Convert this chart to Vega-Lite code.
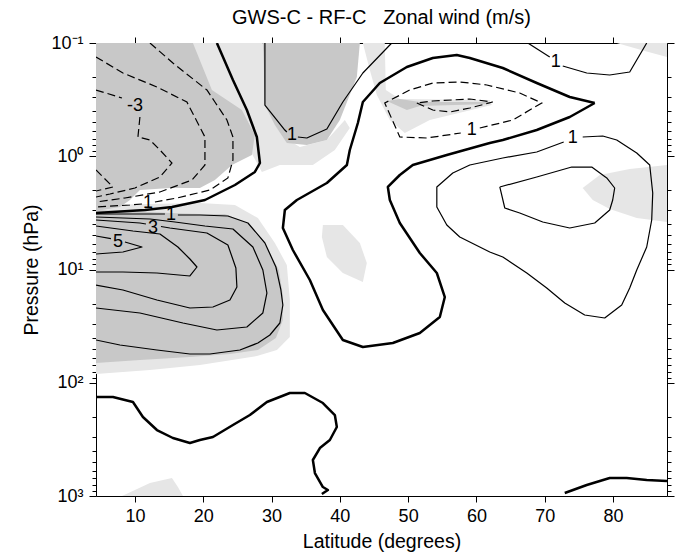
{
  "$schema": "https://vega.github.io/schema/vega-lite/v6.json",
  "width": 571,
  "height": 453,
  "autosize": {"type": "none"},
  "padding": {"left": 96, "top": 43, "right": 24, "bottom": 56},
  "background": "white",
  "title": {"text": "GWS-C - RF-C\u00a0\u00a0 Zonal wind (m/s)", "fontSize": 20, "fontWeight": "normal", "font": "Liberation Sans", "color": "black", "anchor": "middle", "offset": 6},
  "config": {
    "font": "Liberation Sans",
    "view": {"stroke": null},
    "axis": {"domainColor": "black", "tickColor": "black", "labelColor": "black", "titleColor": "black", "labelFont": "Liberation Sans", "titleFont": "Liberation Sans", "titleFontWeight": "normal", "grid": false, "domainWidth": 1, "tickWidth": 1, "labelFontSize": 18, "titleFontSize": 19.5}
  },
  "datasets": {
    "shades": [
      {"id":"D1","shade":"dark","o":1,"lat":4.3,"p":0.1},{"id":"D1","shade":"dark","o":2,"lat":18.49,"p":0.1},{"id":"D1","shade":"dark","o":3,"lat":21.27,"p":0.2601},{"id":"D1","shade":"dark","o":4,"lat":25.66,"p":0.3905},{"id":"D1","shade":"dark","o":5,"lat":27.56,"p":0.6492},{"id":"D1","shade":"dark","o":6,"lat":27.12,"p":0.9749},{"id":"D1","shade":"dark","o":7,"lat":24.2,"p":1.195},{"id":"D1","shade":"dark","o":8,"lat":21.71,"p":1.621},{"id":"D1","shade":"dark","o":9,"lat":19.51,"p":1.907},{"id":"D1","shade":"dark","o":10,"lat":15.12,"p":1.907},{"id":"D1","shade":"dark","o":11,"lat":10.73,"p":1.987},{"id":"D1","shade":"dark","o":12,"lat":9.27,"p":2.434},{"id":"D1","shade":"dark","o":13,"lat":7.8,"p":2.806},{"id":"D1","shade":"dark","o":14,"lat":4.3,"p":3.04},
      {"id":"D2","shade":"dark","o":1,"lat":4.3,"p":2.983},{"id":"D2","shade":"dark","o":2,"lat":9.27,"p":3.04},{"id":"D2","shade":"dark","o":3,"lat":15.12,"p":3.17},{"id":"D2","shade":"dark","o":4,"lat":19.51,"p":3.235},{"id":"D2","shade":"dark","o":5,"lat":23.17,"p":3.235},{"id":"D2","shade":"dark","o":6,"lat":26.39,"p":3.885},{"id":"D2","shade":"dark","o":7,"lat":29.32,"p":6.328},{"id":"D2","shade":"dark","o":8,"lat":31.07,"p":10.1},{"id":"D2","shade":"dark","o":9,"lat":31.66,"p":16.8},{"id":"D2","shade":"dark","o":10,"lat":31.66,"p":27.92},{"id":"D2","shade":"dark","o":11,"lat":30.64,"p":40.26},{"id":"D2","shade":"dark","o":12,"lat":28.0,"p":51.38},{"id":"D2","shade":"dark","o":13,"lat":23.91,"p":55.74},{"id":"D2","shade":"dark","o":14,"lat":18.05,"p":59.25},{"id":"D2","shade":"dark","o":15,"lat":10.73,"p":62.97},{"id":"D2","shade":"dark","o":16,"lat":4.3,"p":66.93},
      {"id":"D3","shade":"dark","o":1,"lat":28.73,"p":0.1},{"id":"D3","shade":"dark","o":2,"lat":42.93,"p":0.1},{"id":"D3","shade":"dark","o":3,"lat":42.49,"p":0.1996},{"id":"D3","shade":"dark","o":4,"lat":40.0,"p":0.4786},{"id":"D3","shade":"dark","o":5,"lat":38.1,"p":0.7186},{"id":"D3","shade":"dark","o":6,"lat":35.17,"p":0.7954},{"id":"D3","shade":"dark","o":7,"lat":32.24,"p":0.7638},{"id":"D3","shade":"dark","o":8,"lat":30.49,"p":0.5298},{"id":"D3","shade":"dark","o":9,"lat":29.03,"p":0.3528},
      {"id":"D4","shade":"dark","o":1,"lat":46.88,"p":0.3252},{"id":"D4","shade":"dark","o":2,"lat":48.78,"p":0.3122},{"id":"D4","shade":"dark","o":3,"lat":51.71,"p":0.3319},{"id":"D4","shade":"dark","o":4,"lat":61.95,"p":0.3319},{"id":"D4","shade":"dark","o":5,"lat":61.95,"p":0.3457},{"id":"D4","shade":"dark","o":6,"lat":51.71,"p":0.36},{"id":"D4","shade":"dark","o":7,"lat":49.81,"p":0.3905},
      {"id":"L2","shade":"light","o":1,"lat":4.3,"p":2.695},{"id":"L2","shade":"light","o":2,"lat":19.51,"p":2.587},{"id":"L2","shade":"light","o":3,"lat":24.64,"p":2.695},{"id":"L2","shade":"light","o":4,"lat":28.0,"p":3.509},{"id":"L2","shade":"light","o":5,"lat":30.49,"p":5.834},{"id":"L2","shade":"light","o":6,"lat":32.24,"p":9.126},{"id":"L2","shade":"light","o":7,"lat":32.68,"p":18.59},{"id":"L2","shade":"light","o":8,"lat":32.68,"p":39.45},{"id":"L2","shade":"light","o":9,"lat":30.78,"p":51.38},{"id":"L2","shade":"light","o":10,"lat":27.85,"p":58.05},{"id":"L2","shade":"light","o":11,"lat":19.51,"p":69.7},{"id":"L2","shade":"light","o":12,"lat":12.2,"p":77.17},{"id":"L2","shade":"light","o":13,"lat":4.3,"p":83.71},
      {"id":"LA1","shade":"light","o":1,"lat":18.05,"p":0.1},{"id":"LA1","shade":"light","o":2,"lat":28.73,"p":0.1},{"id":"LA1","shade":"light","o":3,"lat":29.03,"p":0.3528},{"id":"LA1","shade":"light","o":4,"lat":31.95,"p":0.6901},{"id":"LA1","shade":"light","o":5,"lat":34.15,"p":0.8283},{"id":"LA1","shade":"light","o":6,"lat":38.1,"p":0.7186},{"id":"LA1","shade":"light","o":7,"lat":40.73,"p":0.4786},{"id":"LA1","shade":"light","o":8,"lat":41.46,"p":0.5632},{"id":"LA1","shade":"light","o":9,"lat":39.27,"p":0.8806},{"id":"LA1","shade":"light","o":10,"lat":36.05,"p":1.195},{"id":"LA1","shade":"light","o":11,"lat":31.22,"p":1.195},{"id":"LA1","shade":"light","o":12,"lat":28.59,"p":1.377},{"id":"LA1","shade":"light","o":13,"lat":26.83,"p":0.8806},{"id":"LA1","shade":"light","o":14,"lat":23.91,"p":0.4786},{"id":"LA1","shade":"light","o":15,"lat":19.51,"p":0.2122},
      {"id":"LA2","shade":"light","o":1,"lat":43.37,"p":0.1},{"id":"LA2","shade":"light","o":2,"lat":46.58,"p":0.1},{"id":"LA2","shade":"light","o":3,"lat":46.73,"p":0.2601},{"id":"LA2","shade":"light","o":4,"lat":48.78,"p":0.3122},{"id":"LA2","shade":"light","o":5,"lat":61.95,"p":0.3186},{"id":"LA2","shade":"light","o":6,"lat":62.25,"p":0.3528},{"id":"LA2","shade":"light","o":7,"lat":53.17,"p":0.4786},{"id":"LA2","shade":"light","o":8,"lat":49.51,"p":0.6234},{"id":"LA2","shade":"light","o":9,"lat":47.32,"p":0.4786},{"id":"LA2","shade":"light","o":10,"lat":45.42,"p":0.2879},{"id":"LA2","shade":"light","o":11,"lat":44.39,"p":0.1731},
      {"id":"L5","shade":"light","o":1,"lat":75.56,"p":1.907},{"id":"L5","shade":"light","o":2,"lat":78.05,"p":1.464},{"id":"L5","shade":"light","o":3,"lat":82.44,"p":1.296},{"id":"L5","shade":"light","o":4,"lat":87.9,"p":1.195},{"id":"L5","shade":"light","o":5,"lat":87.9,"p":3.806},{"id":"L5","shade":"light","o":6,"lat":83.47,"p":3.509},{"id":"L5","shade":"light","o":7,"lat":79.51,"p":2.923},{"id":"L5","shade":"light","o":8,"lat":77.03,"p":2.434},
      {"id":"L6","shade":"light","o":1,"lat":8.1,"p":1000},{"id":"L6","shade":"light","o":2,"lat":10.0,"p":885.1},{"id":"L6","shade":"light","o":3,"lat":12.2,"p":768.0},{"id":"L6","shade":"light","o":4,"lat":15.42,"p":693.7},{"id":"L6","shade":"light","o":5,"lat":16.29,"p":833.1},{"id":"L6","shade":"light","o":6,"lat":17.03,"p":1000},
      {"id":"L7","shade":"light","o":1,"lat":80.54,"p":0.1},{"id":"L7","shade":"light","o":2,"lat":87.9,"p":0.1},{"id":"L7","shade":"light","o":3,"lat":87.9,"p":0.1329},{"id":"L7","shade":"light","o":4,"lat":84.64,"p":0.1177},
      {"id":"L8","shade":"light","o":1,"lat":37.52,"p":4.046},{"id":"L8","shade":"light","o":2,"lat":40.44,"p":4.046},{"id":"L8","shade":"light","o":3,"lat":42.93,"p":5.834},{"id":"L8","shade":"light","o":4,"lat":43.95,"p":8.762},{"id":"L8","shade":"light","o":5,"lat":43.37,"p":12.89},{"id":"L8","shade":"light","o":6,"lat":40.44,"p":10.74},{"id":"L8","shade":"light","o":7,"lat":38.1,"p":7.757},{"id":"L8","shade":"light","o":8,"lat":37.37,"p":5.165}
    ],
    "contours": [
      {"id":"T1","level":0,"o":1,"lat":22.0,"p":0.1},{"id":"T1","level":0,"o":2,"lat":24.35,"p":0.2122},{"id":"T1","level":0,"o":3,"lat":26.39,"p":0.3905},{"id":"T1","level":0,"o":4,"lat":27.85,"p":0.6761},{"id":"T1","level":0,"o":5,"lat":28.3,"p":1.147},{"id":"T1","level":0,"o":6,"lat":27.56,"p":1.377},{"id":"T1","level":0,"o":7,"lat":24.64,"p":1.794},{"id":"T1","level":0,"o":8,"lat":20.25,"p":2.434},{"id":"T1","level":0,"o":9,"lat":15.42,"p":2.806},{"id":"T1","level":0,"o":10,"lat":11.47,"p":2.983},{"id":"T1","level":0,"o":11,"lat":4.3,"p":3.17},
      {"id":"T2","level":0,"o":1,"lat":77.32,"p":0.3387},{"id":"T2","level":0,"o":2,"lat":73.66,"p":0.2998},{"id":"T2","level":0,"o":3,"lat":68.83,"p":0.2256},{"id":"T2","level":0,"o":4,"lat":63.86,"p":0.1663},{"id":"T2","level":0,"o":5,"lat":59.03,"p":0.1357},{"id":"T2","level":0,"o":6,"lat":57.12,"p":0.1276},{"id":"T2","level":0,"o":7,"lat":53.61,"p":0.1357},{"id":"T2","level":0,"o":8,"lat":49.81,"p":0.1629},{"id":"T2","level":0,"o":9,"lat":45.85,"p":0.2256},{"id":"T2","level":0,"o":10,"lat":43.37,"p":0.3319},{"id":"T2","level":0,"o":11,"lat":42.64,"p":0.5087},{"id":"T2","level":0,"o":12,"lat":41.46,"p":0.8806},{"id":"T2","level":0,"o":13,"lat":41.03,"p":1.195},{"id":"T2","level":0,"o":14,"lat":38.1,"p":1.722},{"id":"T2","level":0,"o":15,"lat":33.71,"p":2.434},{"id":"T2","level":0,"o":16,"lat":31.95,"p":2.983},{"id":"T2","level":0,"o":17,"lat":31.66,"p":4.3},{"id":"T2","level":0,"o":18,"lat":33.12,"p":6.727},{"id":"T2","level":0,"o":19,"lat":35.61,"p":12.38},{"id":"T2","level":0,"o":20,"lat":37.52,"p":22.79},{"id":"T2","level":0,"o":21,"lat":40.44,"p":41.93},{"id":"T2","level":0,"o":22,"lat":43.37,"p":48.34},{"id":"T2","level":0,"o":23,"lat":47.76,"p":44.57},{"id":"T2","level":0,"o":24,"lat":51.71,"p":36.36},{"id":"T2","level":0,"o":25,"lat":54.64,"p":26.27},{"id":"T2","level":0,"o":26,"lat":55.37,"p":17.5},{"id":"T2","level":0,"o":27,"lat":54.2,"p":10.74},{"id":"T2","level":0,"o":28,"lat":51.71,"p":7.15},{"id":"T2","level":0,"o":29,"lat":48.78,"p":3.885},{"id":"T2","level":0,"o":30,"lat":47.32,"p":2.434},{"id":"T2","level":0,"o":31,"lat":47.03,"p":1.868},{"id":"T2","level":0,"o":32,"lat":48.78,"p":1.464},{"id":"T2","level":0,"o":33,"lat":50.68,"p":1.195},{"id":"T2","level":0,"o":34,"lat":55.66,"p":0.9749},{"id":"T2","level":0,"o":35,"lat":61.95,"p":0.7638},{"id":"T2","level":0,"o":36,"lat":63.86,"p":0.7186},{"id":"T2","level":0,"o":37,"lat":68.83,"p":0.5866},{"id":"T2","level":0,"o":38,"lat":73.66,"p":0.4502},{"id":"T2","level":0,"o":39,"lat":77.32,"p":0.3387},
      {"id":"T3","level":0,"o":1,"lat":4.3,"p":133.6},{"id":"T3","level":0,"o":2,"lat":6.78,"p":133.6},{"id":"T3","level":0,"o":3,"lat":9.71,"p":147.9},{"id":"T3","level":0,"o":4,"lat":11.17,"p":200.6},{"id":"T3","level":0,"o":5,"lat":13.22,"p":261.4},{"id":"T3","level":0,"o":6,"lat":15.56,"p":307.5},{"id":"T3","level":0,"o":7,"lat":18.05,"p":340.4},{"id":"T3","level":0,"o":8,"lat":19.51,"p":320.3},{"id":"T3","level":0,"o":9,"lat":21.42,"p":301.3},{"id":"T3","level":0,"o":10,"lat":24.35,"p":236.1},{"id":"T3","level":0,"o":11,"lat":26.83,"p":192.7},{"id":"T3","level":0,"o":12,"lat":29.32,"p":147.9},{"id":"T3","level":0,"o":13,"lat":32.68,"p":123.2},{"id":"T3","level":0,"o":14,"lat":34.88,"p":123.2},{"id":"T3","level":0,"o":15,"lat":37.52,"p":151.0},{"id":"T3","level":0,"o":16,"lat":39.27,"p":192.7},{"id":"T3","level":0,"o":17,"lat":39.56,"p":245.9},{"id":"T3","level":0,"o":18,"lat":38.54,"p":320.3},{"id":"T3","level":0,"o":19,"lat":37.08,"p":376.9},{"id":"T3","level":0,"o":20,"lat":36.05,"p":480.9},{"id":"T3","level":0,"o":21,"lat":36.35,"p":626.6},{"id":"T3","level":0,"o":22,"lat":37.52,"p":833.1},{"id":"T3","level":0,"o":23,"lat":38.25,"p":885.1},{"id":"T3","level":0,"o":24,"lat":37.37,"p":960.1},
      {"id":"T4","level":0,"o":1,"lat":72.93,"p":941.0},{"id":"T4","level":0,"o":2,"lat":76.15,"p":799.9},{"id":"T4","level":0,"o":3,"lat":79.51,"p":693.7},{"id":"T4","level":0,"o":4,"lat":82.0,"p":693.7},{"id":"T4","level":0,"o":5,"lat":84.93,"p":722.5},{"id":"T4","level":0,"o":6,"lat":87.9,"p":737.3},
      {"id":"P1a","level":1,"o":1,"lat":29.03,"p":0.1},{"id":"P1a","level":1,"o":2,"lat":29.03,"p":0.3528},{"id":"P1a","level":1,"o":3,"lat":31.95,"p":0.5866},{"id":"P1a","level":1,"o":4,"lat":32.24,"p":0.6107},
      {"id":"P1b","level":1,"o":1,"lat":33.86,"p":0.6761},{"id":"P1b","level":1,"o":2,"lat":35.17,"p":0.6901},{"id":"P1b","level":1,"o":3,"lat":38.1,"p":0.5748},{"id":"P1b","level":1,"o":4,"lat":40.44,"p":0.3319},{"id":"P1b","level":1,"o":5,"lat":43.37,"p":0.184},{"id":"P1b","level":1,"o":6,"lat":47.32,"p":0.1041},{"id":"P1b","level":1,"o":7,"lat":47.61,"p":0.1},
      {"id":"P2a","level":1,"o":1,"lat":67.52,"p":0.1},{"id":"P2a","level":1,"o":2,"lat":70.73,"p":0.1329},
      {"id":"P2b","level":1,"o":1,"lat":72.64,"p":0.1596},{"id":"P2b","level":1,"o":2,"lat":76.15,"p":0.184},{"id":"P2b","level":1,"o":3,"lat":79.51,"p":0.1917},{"id":"P2b","level":1,"o":4,"lat":82.44,"p":0.1803},{"id":"P2b","level":1,"o":5,"lat":84.93,"p":0.1},
      {"id":"P3","level":1,"o":1,"lat":75.56,"p":0.6761},{"id":"P3","level":1,"o":2,"lat":78.49,"p":0.6625},{"id":"P3","level":1,"o":3,"lat":80.54,"p":0.7186},{"id":"P3","level":1,"o":4,"lat":83.47,"p":0.9361},{"id":"P3","level":1,"o":5,"lat":85.37,"p":1.195},{"id":"P3","level":1,"o":6,"lat":85.81,"p":2.112},{"id":"P3","level":1,"o":7,"lat":85.66,"p":3.655},{"id":"P3","level":1,"o":8,"lat":84.93,"p":6.328},{"id":"P3","level":1,"o":9,"lat":83.47,"p":10.1},{"id":"P3","level":1,"o":10,"lat":82.44,"p":14.57},{"id":"P3","level":1,"o":11,"lat":81.27,"p":20.58},{"id":"P3","level":1,"o":12,"lat":78.78,"p":26.81},{"id":"P3","level":1,"o":13,"lat":75.85,"p":25.22},{"id":"P3","level":1,"o":14,"lat":72.93,"p":19.76},{"id":"P3","level":1,"o":15,"lat":70.29,"p":14.57},{"id":"P3","level":1,"o":16,"lat":67.37,"p":10.74},{"id":"P3","level":1,"o":17,"lat":63.86,"p":7.757},{"id":"P3","level":1,"o":18,"lat":61.95,"p":7.006},{"id":"P3","level":1,"o":19,"lat":57.56,"p":5.165},{"id":"P3","level":1,"o":20,"lat":55.66,"p":4.046},{"id":"P3","level":1,"o":21,"lat":54.2,"p":2.806},{"id":"P3","level":1,"o":22,"lat":54.2,"p":1.868},{"id":"P3","level":1,"o":23,"lat":56.54,"p":1.406},{"id":"P3","level":1,"o":24,"lat":59.03,"p":1.195},{"id":"P3","level":1,"o":25,"lat":63.86,"p":1.036},{"id":"P3","level":1,"o":26,"lat":68.83,"p":0.9172},{"id":"P3","level":1,"o":27,"lat":72.78,"p":0.7484},
      {"id":"P4","level":2,"o":1,"lat":63.42,"p":1.868},{"id":"P4","level":2,"o":2,"lat":68.83,"p":1.525},{"id":"P4","level":2,"o":3,"lat":73.95,"p":1.245},{"id":"P4","level":2,"o":4,"lat":76.88,"p":1.245},{"id":"P4","level":2,"o":5,"lat":79.08,"p":1.556},{"id":"P4","level":2,"o":6,"lat":80.24,"p":1.907},{"id":"P4","level":2,"o":7,"lat":79.95,"p":2.434},{"id":"P4","level":2,"o":8,"lat":79.51,"p":2.983},{"id":"P4","level":2,"o":9,"lat":77.32,"p":3.885},{"id":"P4","level":2,"o":10,"lat":73.66,"p":4.3},{"id":"P4","level":2,"o":11,"lat":69.71,"p":3.806},{"id":"P4","level":2,"o":12,"lat":66.34,"p":3.17},{"id":"P4","level":2,"o":13,"lat":64.15,"p":2.864},{"id":"P4","level":2,"o":14,"lat":63.42,"p":1.868},
      {"id":"C1a","level":1,"o":1,"lat":4.3,"p":3.235},{"id":"C1a","level":1,"o":2,"lat":10.73,"p":3.235},{"id":"C1a","level":1,"o":3,"lat":14.39,"p":3.235},
      {"id":"C1b","level":1,"o":1,"lat":16.29,"p":3.302},{"id":"C1b","level":1,"o":2,"lat":19.51,"p":3.302},{"id":"C1b","level":1,"o":3,"lat":23.61,"p":3.369},{"id":"C1b","level":1,"o":4,"lat":26.54,"p":3.885},{"id":"C1b","level":1,"o":5,"lat":29.03,"p":5.834},{"id":"C1b","level":1,"o":6,"lat":30.64,"p":9.504},{"id":"C1b","level":1,"o":7,"lat":31.37,"p":15.17},{"id":"C1b","level":1,"o":8,"lat":31.66,"p":20.58},{"id":"C1b","level":1,"o":9,"lat":31.22,"p":29.68},{"id":"C1b","level":1,"o":10,"lat":29.76,"p":37.87},{"id":"C1b","level":1,"o":11,"lat":28.0,"p":44.57},{"id":"C1b","level":1,"o":12,"lat":25.37,"p":51.38},{"id":"C1b","level":1,"o":13,"lat":20.98,"p":55.74},{"id":"C1b","level":1,"o":14,"lat":18.05,"p":55.74},{"id":"C1b","level":1,"o":15,"lat":13.22,"p":51.38},{"id":"C1b","level":1,"o":16,"lat":7.8,"p":46.41},{"id":"C1b","level":1,"o":17,"lat":4.3,"p":41.93},
      {"id":"C2","level":2,"o":1,"lat":4.3,"p":3.439},{"id":"C2","level":2,"o":2,"lat":12.2,"p":3.581},{"id":"C2","level":2,"o":3,"lat":15.86,"p":3.806},{"id":"C2","level":2,"o":4,"lat":20.25,"p":4.129},{"id":"C2","level":2,"o":5,"lat":24.35,"p":4.389},{"id":"C2","level":2,"o":6,"lat":27.27,"p":6.328},{"id":"C2","level":2,"o":7,"lat":28.73,"p":10.1},{"id":"C2","level":2,"o":8,"lat":29.32,"p":16.13},{"id":"C2","level":2,"o":9,"lat":28.73,"p":24.21},{"id":"C2","level":2,"o":10,"lat":26.39,"p":32.19},{"id":"C2","level":2,"o":11,"lat":22.0,"p":34.21},{"id":"C2","level":2,"o":12,"lat":17.03,"p":29.68},{"id":"C2","level":2,"o":13,"lat":10.73,"p":24.21},{"id":"C2","level":2,"o":14,"lat":4.3,"p":21.88},
      {"id":"C3a","level":3,"o":1,"lat":4.3,"p":3.655},{"id":"C3a","level":3,"o":2,"lat":10.73,"p":3.885},{"id":"C3a","level":3,"o":3,"lat":11.61,"p":3.964},
      {"id":"C3b","level":3,"o":1,"lat":13.81,"p":4.171},{"id":"C3b","level":3,"o":2,"lat":15.12,"p":4.3},{"id":"C3b","level":3,"o":3,"lat":20.54,"p":4.761},{"id":"C3b","level":3,"o":4,"lat":23.61,"p":6.076},{"id":"C3b","level":3,"o":5,"lat":24.78,"p":9.7},{"id":"C3b","level":3,"o":6,"lat":24.93,"p":14.28},{"id":"C3b","level":3,"o":7,"lat":23.91,"p":18.59},{"id":"C3b","level":3,"o":8,"lat":21.42,"p":21.43},{"id":"C3b","level":3,"o":9,"lat":18.05,"p":21.88},{"id":"C3b","level":3,"o":10,"lat":13.22,"p":18.59},{"id":"C3b","level":3,"o":11,"lat":8.24,"p":15.17},{"id":"C3b","level":3,"o":12,"lat":4.3,"p":13.71},
      {"id":"C4","level":4,"o":1,"lat":4.3,"p":4.129},{"id":"C4","level":4,"o":2,"lat":9.71,"p":4.571},{"id":"C4","level":4,"o":3,"lat":13.66,"p":4.859},{"id":"C4","level":4,"o":4,"lat":16.29,"p":6.328},{"id":"C4","level":4,"o":5,"lat":18.05,"p":8.079},{"id":"C4","level":4,"o":6,"lat":19.08,"p":9.504},{"id":"C4","level":4,"o":7,"lat":18.05,"p":11.41},{"id":"C4","level":4,"o":8,"lat":13.22,"p":10.74},{"id":"C4","level":4,"o":9,"lat":8.24,"p":10.52},{"id":"C4","level":4,"o":10,"lat":4.3,"p":10.52},
      {"id":"C5a","level":5,"o":1,"lat":4.3,"p":5.061},{"id":"C5a","level":5,"o":2,"lat":6.49,"p":5.33},
      {"id":"C5b","level":5,"o":1,"lat":8.54,"p":5.716},{"id":"C5b","level":5,"o":2,"lat":11.03,"p":6.328},{"id":"C5b","level":5,"o":3,"lat":8.24,"p":7.006},{"id":"C5b","level":5,"o":4,"lat":4.3,"p":7.297},
      {"id":"N1a","level":-1,"o":1,"lat":12.2,"p":0.1},{"id":"N1a","level":-1,"o":2,"lat":15.56,"p":0.1502},{"id":"N1a","level":-1,"o":3,"lat":20.54,"p":0.2601},{"id":"N1a","level":-1,"o":4,"lat":21.71,"p":0.3319},{"id":"N1a","level":-1,"o":5,"lat":23.47,"p":0.4786},{"id":"N1a","level":-1,"o":6,"lat":24.35,"p":0.6761},{"id":"N1a","level":-1,"o":7,"lat":24.35,"p":1.079},{"id":"N1a","level":-1,"o":8,"lat":23.61,"p":1.556},{"id":"N1a","level":-1,"o":9,"lat":20.98,"p":1.987},{"id":"N1a","level":-1,"o":10,"lat":16.15,"p":2.337},{"id":"N1a","level":-1,"o":11,"lat":12.93,"p":2.535},
      {"id":"N1b","level":-1,"o":1,"lat":11.03,"p":2.64},{"id":"N1b","level":-1,"o":2,"lat":9.27,"p":2.695},{"id":"N1b","level":-1,"o":3,"lat":4.3,"p":2.806},
      {"id":"N2","level":-2,"o":1,"lat":4.3,"p":0.1329},{"id":"N2","level":-2,"o":2,"lat":8.24,"p":0.184},{"id":"N2","level":-2,"o":3,"lat":13.22,"p":0.2446},{"id":"N2","level":-2,"o":4,"lat":17.61,"p":0.3319},{"id":"N2","level":-2,"o":5,"lat":20.25,"p":0.6761},{"id":"N2","level":-2,"o":6,"lat":20.25,"p":1.195},{"id":"N2","level":-2,"o":7,"lat":18.35,"p":1.621},{"id":"N2","level":-2,"o":8,"lat":13.66,"p":2.069},{"id":"N2","level":-2,"o":9,"lat":8.54,"p":2.337},{"id":"N2","level":-2,"o":10,"lat":4.3,"p":2.535},
      {"id":"N3a","level":-3,"o":1,"lat":4.3,"p":0.2601},{"id":"N3a","level":-3,"o":2,"lat":8.1,"p":0.306},
      {"id":"N3b","level":-3,"o":1,"lat":10.73,"p":0.4502},{"id":"N3b","level":-3,"o":2,"lat":10.44,"p":0.6761},{"id":"N3b","level":-3,"o":3,"lat":12.2,"p":0.7186},{"id":"N3b","level":-3,"o":4,"lat":13.66,"p":0.8806},{"id":"N3b","level":-3,"o":5,"lat":15.42,"p":1.147},{"id":"N3b","level":-3,"o":6,"lat":13.66,"p":1.525},{"id":"N3b","level":-3,"o":7,"lat":10.0,"p":1.907},{"id":"N3b","level":-3,"o":8,"lat":6.34,"p":2.154},{"id":"N3b","level":-3,"o":9,"lat":4.3,"p":2.29},
      {"id":"N4","level":-4,"o":1,"lat":4.3,"p":1.323},{"id":"N4","level":-4,"o":2,"lat":6.78,"p":1.868},{"id":"N4","level":-4,"o":3,"lat":4.3,"p":2.028},
      {"id":"N5","level":-1,"o":1,"lat":60.49,"p":0.5632},{"id":"N5","level":-1,"o":2,"lat":65.32,"p":0.4786},{"id":"N5","level":-1,"o":3,"lat":69.56,"p":0.3387},{"id":"N5","level":-1,"o":4,"lat":66.34,"p":0.2764},{"id":"N5","level":-1,"o":5,"lat":61.52,"p":0.2349},{"id":"N5","level":-1,"o":6,"lat":59.03,"p":0.2256},{"id":"N5","level":-1,"o":7,"lat":57.56,"p":0.221},{"id":"N5","level":-1,"o":8,"lat":53.61,"p":0.2256},{"id":"N5","level":-1,"o":9,"lat":50.24,"p":0.2601},{"id":"N5","level":-1,"o":10,"lat":46.58,"p":0.3387},{"id":"N5","level":-1,"o":11,"lat":48.78,"p":0.6761},{"id":"N5","level":-1,"o":12,"lat":52.73,"p":0.6901},{"id":"N5","level":-1,"o":13,"lat":57.71,"p":0.6234},
      {"id":"N6","level":-2,"o":1,"lat":51.27,"p":0.3387},{"id":"N6","level":-2,"o":2,"lat":53.61,"p":0.3905},{"id":"N6","level":-2,"o":3,"lat":56.1,"p":0.4067},{"id":"N6","level":-2,"o":4,"lat":59.03,"p":0.375},{"id":"N6","level":-2,"o":5,"lat":62.39,"p":0.3319},{"id":"N6","level":-2,"o":6,"lat":59.03,"p":0.3122},{"id":"N6","level":-2,"o":7,"lat":53.61,"p":0.3252},{"id":"N6","level":-2,"o":8,"lat":51.27,"p":0.3387}
    ],
    "labels": [
      {"text":"-3","lat":10.0,"p":0.36},
      {"text":"1","lat":11.9,"p":2.587},
      {"text":"1","lat":15.27,"p":3.302},
      {"text":"3","lat":12.64,"p":4.3},
      {"text":"5","lat":7.51,"p":5.716},
      {"text":"1","lat":32.98,"p":0.6492},
      {"text":"1","lat":59.32,"p":0.5866},
      {"text":"1","lat":71.61,"p":0.1472},
      {"text":"1","lat":74.1,"p":0.6901}
    ]
  },
  "layer": [
    {
      "data": {"name": "shades"},
      "transform": [{"filter": {"field": "shade", "equal": "light"}}],
      "mark": {"type": "line", "fill": "#e6e6e6", "strokeWidth": 0, "clip": true},
      "encoding": {
        "x": {"field": "lat", "type": "quantitative", "scale": {"domain": [4.3, 87.9], "nice": false, "zero": false},
              "axis": {"orient": "bottom", "values": [10, 20, 30, 40, 50, 60, 70, 80], "title": "Latitude (degrees)", "tickSize": 6, "labelPadding": 5, "titlePadding": 7, "labelFlush": false}},
        "y": {"field": "p", "type": "quantitative", "scale": {"type": "log", "domain": [0.1, 1000], "reverse": true, "nice": false},
              "axis": {"orient": "left", "values": [0.1, 1, 10, 100, 1000], "title": "Pressure (hPa)", "tickSize": 7, "labelPadding": 6, "titlePadding": 9, "labelFlush": false,
                       "labelExpr": "datum.value < 0.5 ? '10⁻¹' : datum.value < 5 ? '10⁰' : datum.value < 50 ? '10¹' : datum.value < 500 ? '10²' : '10³'"}},
        "detail": {"field": "id", "type": "nominal"},
        "order": {"field": "o", "type": "quantitative"}
      }
    },
    {
      "data": {"name": "shades"},
      "transform": [{"filter": {"field": "shade", "equal": "dark"}}],
      "mark": {"type": "line", "fill": "#c8c8c8", "strokeWidth": 0, "clip": true},
      "encoding": {
        "x": {"field": "lat", "type": "quantitative", "axis": null},
        "y": {"field": "p", "type": "quantitative", "axis": null},
        "detail": {"field": "id", "type": "nominal"},
        "order": {"field": "o", "type": "quantitative"}
      }
    },
    {
      "data": {"name": "contours"},
      "transform": [{"filter": {"field": "level", "equal": 0}}],
      "mark": {"type": "line", "color": "black", "strokeWidth": 2.5, "strokeJoin": "round", "clip": true},
      "encoding": {
        "x": {"field": "lat", "type": "quantitative", "axis": null},
        "y": {"field": "p", "type": "quantitative", "axis": null},
        "detail": {"field": "id", "type": "nominal"},
        "order": {"field": "o", "type": "quantitative"}
      }
    },
    {
      "data": {"name": "contours"},
      "transform": [{"filter": {"field": "level", "gt": 0}}],
      "mark": {"type": "line", "color": "black", "strokeWidth": 1.2, "strokeJoin": "round", "clip": true},
      "encoding": {
        "x": {"field": "lat", "type": "quantitative", "axis": null},
        "y": {"field": "p", "type": "quantitative", "axis": null},
        "detail": {"field": "id", "type": "nominal"},
        "order": {"field": "o", "type": "quantitative"}
      }
    },
    {
      "data": {"name": "contours"},
      "transform": [{"filter": {"field": "level", "lt": 0}}],
      "mark": {"type": "line", "color": "black", "strokeWidth": 1.2, "strokeDash": [8, 4], "clip": true},
      "encoding": {
        "x": {"field": "lat", "type": "quantitative", "axis": null},
        "y": {"field": "p", "type": "quantitative", "axis": null},
        "detail": {"field": "id", "type": "nominal"},
        "order": {"field": "o", "type": "quantitative"}
      }
    },
    {
      "data": {"name": "labels"},
      "mark": {"type": "text", "font": "Liberation Sans", "fontSize": 18, "color": "black", "align": "center", "baseline": "middle"},
      "encoding": {
        "x": {"field": "lat", "type": "quantitative", "axis": null},
        "y": {"field": "p", "type": "quantitative", "axis": null},
        "text": {"field": "text", "type": "nominal"}
      }
    },
    {
      "data": {"name": "labels"},
      "mark": {"type": "point", "opacity": 0},
      "encoding": {
        "x": {"field": "lat", "type": "quantitative", "axis": {"orient": "top", "values": [10, 20, 30, 40, 50, 60, 70, 80], "labels": false, "title": null, "tickSize": 6}},
        "y": {"field": "p", "type": "quantitative", "axis": null}
      }
    },
    {
      "data": {"name": "labels"},
      "mark": {"type": "point", "opacity": 0},
      "encoding": {
        "x": {"field": "lat", "type": "quantitative", "axis": null},
        "y": {"field": "p", "type": "quantitative", "axis": {"orient": "left", "values": [0.2,0.3,0.4,0.5,0.6,0.7,0.8,0.9,2,3,4,5,6,7,8,9,20,30,40,50,60,70,80,90,200,300,400,500,600,700,800,900], "labels": false, "title": null, "tickSize": 4, "domain": false}}
      }
    },
    {
      "data": {"name": "labels"},
      "mark": {"type": "point", "opacity": 0},
      "encoding": {
        "x": {"field": "lat", "type": "quantitative", "axis": null},
        "y": {"field": "p", "type": "quantitative", "axis": {"orient": "right", "values": [0.1, 1, 10, 100, 1000], "labels": false, "title": null, "tickSize": 7}}
      }
    },
    {
      "data": {"name": "labels"},
      "mark": {"type": "point", "opacity": 0},
      "encoding": {
        "x": {"field": "lat", "type": "quantitative", "axis": null},
        "y": {"field": "p", "type": "quantitative", "axis": {"orient": "right", "values": [0.2,0.3,0.4,0.5,0.6,0.7,0.8,0.9,2,3,4,5,6,7,8,9,20,30,40,50,60,70,80,90,200,300,400,500,600,700,800,900], "labels": false, "title": null, "tickSize": 4, "domain": false}}
      }
    }
  ],
  "resolve": {"axis": {"x": "independent", "y": "independent"}}
}
